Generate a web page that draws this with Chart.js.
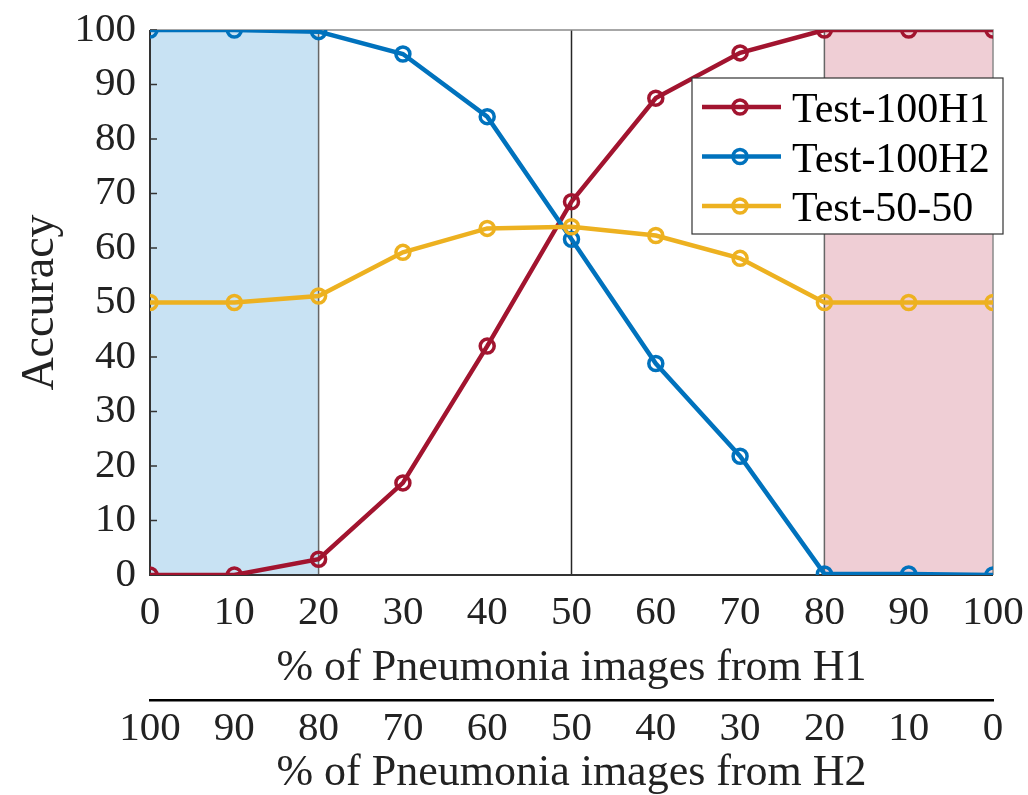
<!DOCTYPE html>
<html><head><meta charset="utf-8">
<script src="https://cdn.jsdelivr.net/npm/chart.js@4"></script>
<style>html,body{margin:0;padding:0;background:#fff;}canvas{display:block;}</style>
</head><body>
<canvas id="c" width="1028" height="795"></canvas>
<script>
const xValues = [0,10,20,30,40,50,60,70,80,90,100];
const test100H1 = [0,0,2.9,16.9,42.0,68.5,87.5,95.8,100,100,100];
const test100H2 = [100,100,99.7,95.6,84.1,61.6,38.8,21.8,0.2,0.2,0];
const test5050 = [50,50,51.2,59.2,63.6,63.9,62.3,58.1,50,50,50];
const seriesNames = ['Test-100H1','Test-100H2','Test-50-50'];
const seriesColors = ['#A2142F','#0072BD','#EDB120'];
const shadedRanges = [[0,20],[80,100]];
const shadedColors = ['rgb(200,226,243)','rgb(239,206,213)'];
const refLines = [20,50,80];
const xTitle = '% of Pneumonia images from H1';
const x2Title = '% of Pneumonia images from H2';
const yTitle = 'Accuracy';

const FONT = "'Liberation Serif','Times New Roman',serif";
const TXT = '#222';

const seriesValues = [test100H1, test100H2, test5050];
const datasets = seriesValues.map((vals,i)=>({
  label: seriesNames[i],
  data: xValues.map((xv,j)=>({x:xv, y:vals[j]})),
  borderColor: seriesColors[i],
  backgroundColor: 'rgba(0,0,0,0)',
  borderWidth: 4.5,
  pointRadius: 7,
  pointBorderWidth: 3.5,
  pointBackgroundColor: 'rgba(0,0,0,0)',
  pointBorderColor: seriesColors[i],
  tension: 0,
  order: 3 - i
}));

function noPad(s){ s.paddingTop = 0; s.paddingBottom = 0; s.paddingLeft = 0; s.paddingRight = 0; }

const backdrop = {
  id:'backdrop',
  beforeDatasetsDraw(chart){
    const {ctx, chartArea:{left,right,top,bottom}, scales:{x,y}} = chart;
    ctx.save();
    shadedRanges.forEach((r,i)=>{
      const a=x.getPixelForValue(r[0]), b=x.getPixelForValue(r[1]);
      ctx.fillStyle=shadedColors[i];
      ctx.fillRect(a,top,b-a,bottom-top);
    });
    refLines.forEach(v=>{
      const px = x.getPixelForValue(v);
      ctx.strokeStyle = v===50 ? '#262626' : '#666';
      ctx.lineWidth = 1.5;
      ctx.beginPath(); ctx.moveTo(px,top); ctx.lineTo(px,bottom); ctx.stroke();
    });
    ctx.strokeStyle='#8a8a8a'; ctx.lineWidth=1.5;
    ctx.beginPath(); ctx.moveTo(left,top); ctx.lineTo(right,top); ctx.lineTo(right,bottom); ctx.stroke();
    ctx.strokeStyle='#333'; ctx.lineWidth=2;
    ctx.beginPath(); ctx.moveTo(left,top); ctx.lineTo(left,bottom); ctx.lineTo(right,bottom); ctx.stroke();
    ctx.lineWidth=1.5;
    y.ticks.forEach(t=>{
      const py = y.getPixelForValue(t.value);
      ctx.beginPath(); ctx.moveTo(left,py); ctx.lineTo(left+7,py); ctx.stroke();
    });
    ctx.restore();
  }
};

const boxLegend = {
  id:'boxLegend',
  afterDraw(chart){
    const ctx = chart.ctx;
    const bx=692, by=78, bw=311, bh=156;
    ctx.save();
    ctx.fillStyle='#fff'; ctx.fillRect(bx,by,bw,bh);
    ctx.strokeStyle='#333'; ctx.lineWidth=1.2; ctx.strokeRect(bx,by,bw,bh);
    chart.data.datasets.forEach((ds,i)=>{
      const cy = by + 29 + i*49.5;
      ctx.strokeStyle = ds.borderColor; ctx.lineWidth = 4.5;
      ctx.beginPath(); ctx.moveTo(bx+10,cy); ctx.lineTo(bx+89,cy); ctx.stroke();
      ctx.lineWidth = 3.5;
      ctx.beginPath(); ctx.arc(bx+48,cy,7,0,Math.PI*2); ctx.stroke();
      ctx.fillStyle = '#000';
      ctx.font = '42px ' + FONT;
      ctx.textBaseline = 'alphabetic'; ctx.textAlign='left';
      ctx.fillText(ds.label, bx+100, cy+15);
    });
    ctx.restore();
  }
};

new Chart(document.getElementById('c'), {
  type:'line',
  data:{datasets},
  options:{
    responsive:false,
    animation:false,
    devicePixelRatio:1,
    layout:{autoPadding:false, padding:{top:30,right:35,bottom:0,left:0}},
    plugins:{legend:{display:false}, tooltip:{enabled:false}},
    scales:{
      x:{
        type:'linear', position:'bottom', min:0, max:100, weight:0,
        grid:{display:false, drawTicks:false},
        border:{display:false},
        ticks:{stepSize:10, autoSkip:false, maxRotation:0, padding:14, color:TXT, font:{family:FONT, size:41}},
        title:{display:true, text:xTitle, color:TXT, font:{family:FONT, size:44}, padding:{top:4, bottom:5}},
        afterFit(s){ s.height = 125; noPad(s); }
      },
      x2:{
        type:'linear', position:'bottom', min:0, max:100, reverse:true, weight:1,
        grid:{display:false, drawTicks:false},
        border:{display:true, color:'#000', width:2.5},
        ticks:{stepSize:10, autoSkip:false, maxRotation:0, padding:5, color:TXT, font:{family:FONT, size:41}},
        title:{display:true, text:x2Title, color:TXT, font:{family:FONT, size:44, lineHeight:1}, padding:{top:0, bottom:0}},
        afterFit(s){ s.height = 95; noPad(s); }
      },
      y:{
        type:'linear', position:'left', min:0, max:100,
        grid:{display:false, drawTicks:false},
        border:{display:false},
        ticks:{stepSize:10, padding:14, color:TXT, font:{family:FONT, size:41}},
        title:{display:true, text:yTitle, color:TXT, font:{family:FONT, size:46}, padding:{top:13, bottom:0}},
        afterFit(s){ s.width = 150; noPad(s); }
      }
    }
  },
  plugins:[backdrop, boxLegend]
});
</script>
</body></html>
